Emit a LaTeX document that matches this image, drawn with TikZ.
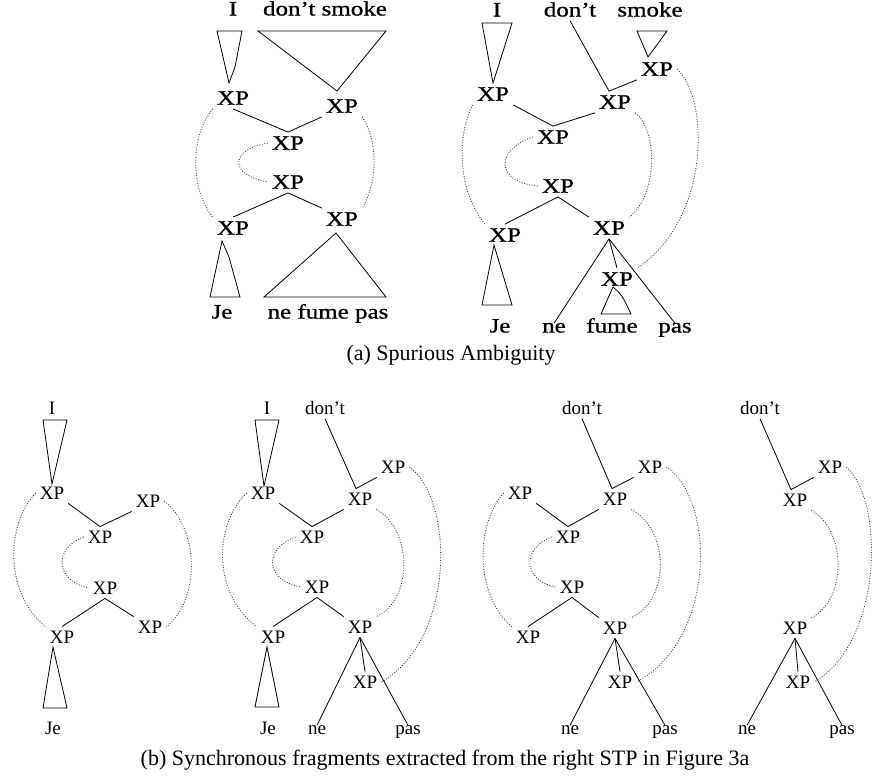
\documentclass[tikz,border=0pt]{standalone}
\usepackage{fontspec}
\setmainfont{Liberation Serif}
\newfontfamily\widefont[FakeStretch=1.22,FakeBold=0.9]{Liberation Serif}
\usetikzlibrary{calc}

\tikzset{
  bigxp/.style={font=\widefont\fontsize{20.5}{22}\selectfont, inner sep=4pt},
  bigword/.style={font=\widefont\fontsize{20.5}{22}\selectfont, inner sep=2pt,
                  text height=0.7em, text depth=0.2em},
  smallxp/.style={font=\fontsize{19}{21}\selectfont, inner sep=4pt},
  smallword/.style={font=\fontsize{19}{21}\selectfont, inner sep=2pt,
                  text height=0.7em, text depth=0.2em},
  capt/.style={font=\fontsize{22}{24}\selectfont, inner sep=0pt},
  branch/.style={line width=0.8pt},
  tri/.style={line width=0.8pt, line join=miter},
  link/.style={line width=0.9pt, dash pattern=on 0.9pt off 1.7pt, black!75},
}

\begin{document}
\begin{tikzpicture}[x=1pt,y=-1pt]
\useasboundingbox (0,0) rectangle (874,777);

% ---------------- (a) left STP ----------------
\node[bigword] (aI)  at (233,13) {I};
\node[bigword] (aDS) at (325,13) {don’t smoke};
\draw[tri] (217,31) -- (242,31) -- (235,67) -- (229,83) -- cycle;
\draw[tri] (258,31) -- (386,31) -- (337,91) -- cycle;

\node[bigxp] (aL)  at (233,98)  {XP};
\node[bigxp] (aR)  at (342,106) {XP};
\node[bigxp] (aM1) at (288,143) {XP};
\node[bigxp] (aM2) at (288,182) {XP};
\node[bigxp] (aBL) at (233,228) {XP};
\node[bigxp] (aBR) at (342,219) {XP};

\draw[branch] (aL.south) -- (aM1.north) -- (aR.south west);
\draw[branch] (aBL.north) -- (aM2.south) -- (aBR.north west);

\draw[link] (aL.south west) .. controls (190,135) and (190,190) .. (aBL.north west);
\draw[link] (aR.south east) .. controls (378,140) and (378,182) .. (aBR.north east);
\draw[link] (aM1.west) .. controls (229,150) and (229,175) .. (aM2.west);

\draw[tri] (222,241) -- (229,257) -- (240,297) -- (210,297) -- cycle;
\draw[tri] (336,233) -- (386,297) -- (264,297) -- cycle;
\node[bigword] (aJe)  at (222,316) {Je};
\node[bigword] (aNFP) at (328,316) {ne fume pas};

% ---------------- (a) right STP ----------------
\node[bigword] (bI)     at (497,14) {I};
\node[bigword] (bDont)  at (570,14) {don’t};
\node[bigword] (bSmoke) at (650,14) {smoke};
\draw[tri] (482,23) -- (512,23) -- (493,83) -- cycle;
\draw[tri] (637,31) -- (667,31) -- (648,57) -- cycle;

\node[bigxp] (bS)  at (657,69)  {XP};
\node[bigxp] (bL)  at (493,94)  {XP};
\node[bigxp] (bC)  at (615,102) {XP};
\node[bigxp] (bM1) at (553,137) {XP};
\node[bigxp] (bM2) at (558,186) {XP};
\node[bigxp] (bBL) at (505,235) {XP};
\node[bigxp] (bBC) at (609,228) {XP};
\node[bigxp] (bSm) at (617,279) {XP};

\draw[branch] (bDont.south) -- ($(bC.north)+(-6,0)$) -- (bS.south west);
\draw[branch] (bL.south east) -- (bM1.north) -- (bC.south west);
\draw[branch] (bBL.north) -- (bM2.south) -- (bBC.north west);

\node[bigword] (bJe)   at (500,330) {Je};
\node[bigword] (bNe)   at (554,330) {ne};
\node[bigword] (bFume) at (612,330) {fume};
\node[bigword] (bPas)  at (675,330) {pas};

\draw[branch] (bNe.north) -- (bBC.south) -- (bPas.north);
\draw[branch] (bBC.south) -- (bSm.north);
\draw[tri] (613,287) .. controls (622,295) .. (631,314) -- (601,314) -- cycle;
\draw[tri] (494,245) -- (512,305) -- (482,305) -- cycle;

\draw[link] (bL.south west) .. controls (457,135) and (457,190) .. (bBL.north west);
\draw[link] (bM1.west) .. controls (495,150) and (495,182) .. (bM2.west);
\draw[link] (bC.south east) .. controls (658,130) and (658,195) .. (bBC.north east);
\draw[link] (bS.east) .. controls (710,100) and (710,220) .. (bSm.north east);

\node[capt] (capA) at (451,355) {(a) Spurious Ambiguity};

% ---------------- (b) fragment 1 ----------------
\node[smallword] (cI) at (52,412) {I};
\draw[tri] (43,420) -- (67,420) -- (52,484) -- cycle;

\node[smallxp] (cL)  at (52,493)  {XP};
\node[smallxp] (cR)  at (148,501) {XP};
\node[smallxp] (cM1) at (100,537) {XP};
\node[smallxp] (cM2) at (105,588) {XP};
\node[smallxp] (cBL) at (62,637)  {XP};
\node[smallxp] (cBR) at (150,627) {XP};

\draw[branch] (cL.south east) -- (cM1.north) -- (cR.south west);
\draw[branch] (cBL.north) -- (cM2.south) -- (cBR.north west);

\draw[link] (cL.west) .. controls (5,525) and (5,595) .. (cBL.north west);
\draw[link] (cR.east) .. controls (200,530) and (200,600) .. (cBR.east);
\draw[link] (cM1.west) .. controls (54,548) and (54,580) .. (cM2.west);

\draw[tri] (53,647) -- (67,708) -- (43,708) -- cycle;
\node[smallword] (cJe) at (53,732) {Je};

% ---------------- (b) fragment 2 ----------------
\node[smallword] (dI)    at (267,412) {I};
\node[smallword] (dDont) at (325,412) {don’t};
\draw[tri] (255,420) -- (279,420) -- (264,486) -- cycle;

\node[smallxp] (dS)  at (393,467) {XP};
\node[smallxp] (dL)  at (263,493) {XP};
\node[smallxp] (dC)  at (360,499) {XP};
\node[smallxp] (dM1) at (312,537) {XP};
\node[smallxp] (dM2) at (317,587) {XP};
\node[smallxp] (dBL) at (273,637) {XP};
\node[smallxp] (dBC) at (360,627) {XP};
\node[smallxp] (dSm) at (365,682) {XP};

\draw[branch] (dDont.south) -- ($(dC.north)+(-4,0)$) -- (dS.south west);
\draw[branch] (dL.south east) -- (dM1.north) -- (dC.south west);
\draw[branch] (dBL.north) -- (dM2.south) -- (dBC.north west);

\node[smallword] (dJe)  at (268,732) {Je};
\node[smallword] (dNe)  at (317,732) {ne};
\node[smallword] (dPas) at (408,732) {pas};

\draw[branch] (dNe.north) -- (dBC.south) -- (dPas.north);
\draw[branch] (dBC.south) -- (dSm.north);
\draw[tri] (267,647) -- (279,707) -- (255,707) -- cycle;

\draw[link] (dL.west) .. controls (213,525) and (213,595) .. (dBL.north west);
\draw[link] (dM1.west) .. controls (264,548) and (264,580) .. (dM2.west);
\draw[link] (dC.south east) .. controls (413,530) and (413,600) .. (dBC.north east);
\draw[link] (dS.east) .. controls (455,500) and (455,640) .. (dSm.east);

% ---------------- (b) fragment 3 ----------------
\node[smallword] (eDont) at (582,412) {don’t};

\node[smallxp] (eS)  at (650,467) {XP};
\node[smallxp] (eL)  at (520,493) {XP};
\node[smallxp] (eC)  at (615,499) {XP};
\node[smallxp] (eM1) at (568,537) {XP};
\node[smallxp] (eM2) at (572,587) {XP};
\node[smallxp] (eBL) at (528,637) {XP};
\node[smallxp] (eBC) at (615,628) {XP};
\node[smallxp] (eSm) at (620,682) {XP};

\draw[branch] (eDont.south) -- ($(eC.north)+(-3,0)$) -- (eS.south west);
\draw[branch] (eL.south east) -- (eM1.north) -- (eC.south west);
\draw[branch] (eBL.north) -- (eM2.south) -- (eBC.north west);

\node[smallword] (eNe)  at (570,732) {ne};
\node[smallword] (ePas) at (665,732) {pas};

\draw[branch] (eNe.north) -- (eBC.south) -- (ePas.north);
\draw[branch] (eBC.south) -- (eSm.north);

\draw[link] (eL.west) .. controls (475,525) and (475,595) .. (eBL.north west);
\draw[link] (eM1.west) .. controls (522,548) and (522,580) .. (eM2.west);
\draw[link] (eC.south east) .. controls (670,530) and (670,600) .. (eBC.north east);
\draw[link] (eS.east) .. controls (716,500) and (716,640) .. (eSm.east);

% ---------------- (b) fragment 4 ----------------
\node[smallword] (fDont) at (760,412) {don’t};

\node[smallxp] (fS)  at (830,467) {XP};
\node[smallxp] (fC)  at (795,500) {XP};
\node[smallxp] (fBC) at (795,628) {XP};
\node[smallxp] (fSm) at (798,682) {XP};

\draw[branch] (fDont.south) -- ($(fC.north)+(-4,0)$) -- (fS.south west);

\node[smallword] (fNe)  at (747,732) {ne};
\node[smallword] (fPas) at (842,732) {pas};

\draw[branch] (fNe.north) -- (fBC.south) -- (fPas.north);
\draw[branch] (fBC.south) -- (fSm.north);

\draw[link] (fC.south east) .. controls (847,530) and (847,600) .. (fBC.north east);
\draw[link] (fS.east) .. controls (884,500) and (884,640) .. (fSm.east);

\node[capt] (capB) at (445,760) {(b) Synchronous fragments extracted from the right STP in Figure 3a};

\end{tikzpicture}
\end{document}
